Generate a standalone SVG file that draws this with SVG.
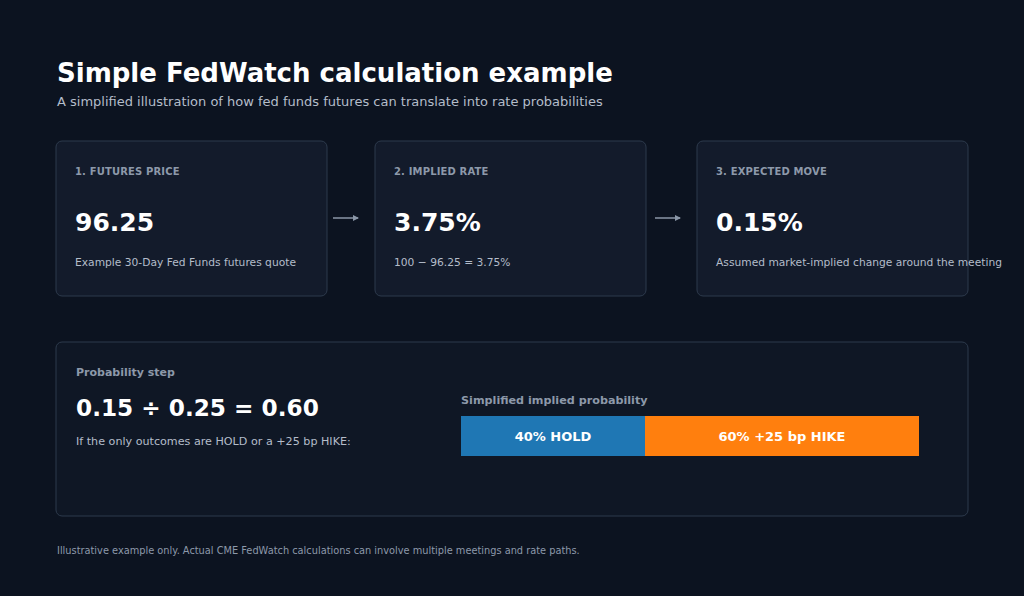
<svg xmlns="http://www.w3.org/2000/svg" width="1024" height="596" viewBox="0 0 1024 596">
<defs>
<style>
text{font-family:"DejaVu Sans","Liberation Sans",sans-serif}
.card{fill:#131b2b;stroke:#2d3a4c;stroke-width:1}
.panel{fill:#0f1725;stroke:#2d3a4c;stroke-width:1}
.lab{font-size:10px;font-weight:bold;fill:#8d99aa;letter-spacing:0.15px}
.big{font-size:25px;font-weight:bold;fill:#ffffff}
.desc{font-size:10.7px;fill:#b4bdca}
.conn{stroke:#8a96a6;stroke-width:1.5;fill:none}
.bar{font-size:13px;font-weight:bold;fill:#ffffff}
</style>
<marker id="ah" markerWidth="6" markerHeight="6" refX="5" refY="3" orient="auto" markerUnits="userSpaceOnUse">
<path d="M0,0 L6,3 L0,6 z" fill="#8a96a6"/>
</marker>
</defs>
<rect width="1024" height="596" fill="#0c1320"/>
<text x="57" y="82" font-size="26" font-weight="bold" fill="#ffffff">Simple FedWatch calculation example</text>
<text x="57" y="106" font-size="13" fill="#b4bdca">A simplified illustration of how fed funds futures can translate into rate probabilities</text>
<g id="card1">
<rect class="card" x="56" y="141" width="271" height="155" rx="6"/>
<text class="lab" x="75" y="175">1. FUTURES PRICE</text>
<text class="big" x="75" y="231">96.25</text>
<text class="desc" x="75" y="266">Example 30-Day Fed Funds futures quote</text>
</g>
<g id="card2">
<rect class="card" x="375" y="141" width="271" height="155" rx="6"/>
<text class="lab" x="394" y="175">2. IMPLIED RATE</text>
<text class="big" x="394" y="231">3.75%</text>
<text class="desc" x="394" y="266">100 − 96.25 = 3.75%</text>
</g>
<g id="card3">
<rect class="card" x="697" y="141" width="271" height="155" rx="6"/>
<text class="lab" x="716" y="175">3. EXPECTED MOVE</text>
<text class="big" x="716" y="231">0.15%</text>
<text class="desc" x="716" y="266">Assumed market-implied change around the meeting</text>
</g>
<g id="connectors">
<line class="conn" x1="333" y1="218" x2="358" y2="218" marker-end="url(#ah)"/>
<line class="conn" x1="655" y1="218" x2="680" y2="218" marker-end="url(#ah)"/>
</g>
<g id="probability">
<rect class="panel" x="56" y="342" width="912" height="174" rx="6"/>
<text x="76" y="376" font-size="11" font-weight="bold" fill="#8d99aa">Probability step</text>
<text x="76" y="416" font-size="23.2" font-weight="bold" fill="#ffffff">0.15 ÷ 0.25 = 0.60</text>
<text x="76" y="445" font-size="11.15" fill="#b4bdca">If the only outcomes are HOLD or a +25 bp HIKE:</text>
<text x="461" y="404" font-size="11.2" font-weight="bold" fill="#8d99aa">Simplified implied probability</text>
<rect x="461" y="416" width="184" height="40" fill="#1f77b4"/>
<rect x="645" y="416" width="274" height="40" fill="#ff7f0e"/>
<text class="bar" x="553" y="440.5" text-anchor="middle">40% HOLD</text>
<text class="bar" x="782" y="440.5" text-anchor="middle">60% +25 bp HIKE</text>
</g>
<text x="57" y="554" font-size="9.8" fill="#8d99aa">Illustrative example only. Actual CME FedWatch calculations can involve multiple meetings and rate paths.</text>
</svg>
